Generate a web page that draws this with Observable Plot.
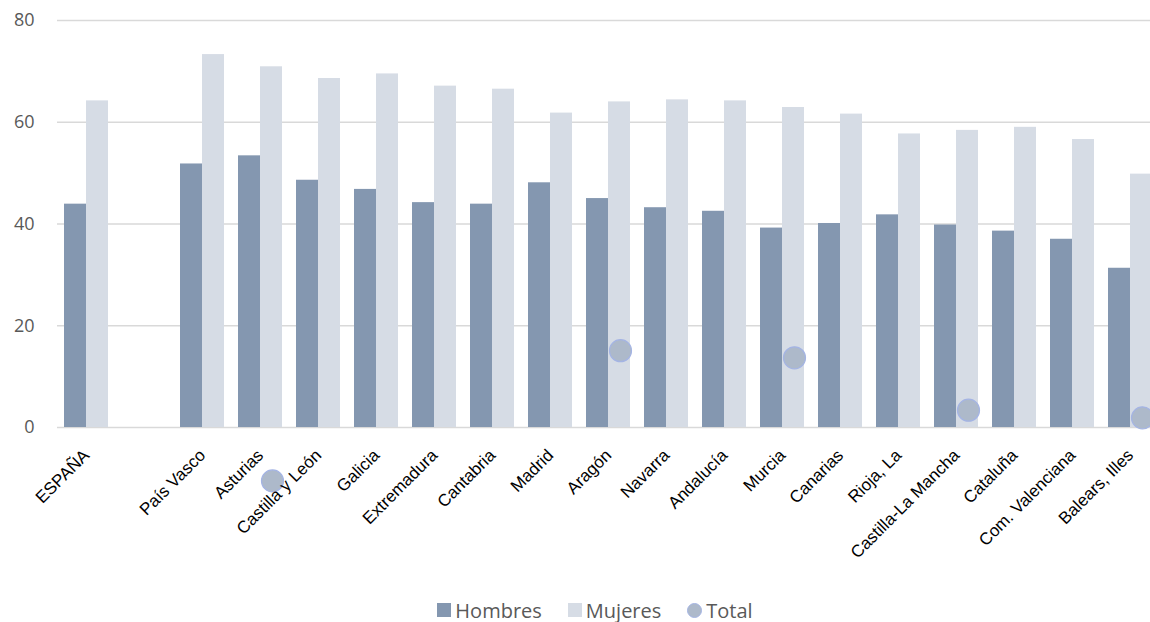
<!DOCTYPE html>
<html>
<head>
<meta charset="utf-8">
<script src="https://cdn.jsdelivr.net/npm/d3@7"></script>
<script src="https://cdn.jsdelivr.net/npm/@observablehq/plot@0.6"></script>
<style>
  html, body { margin: 0; padding: 0; background: #fff; overflow: hidden; }
  #chart svg { display: block; overflow: hidden; }
  .legend { display: flex; justify-content: center; align-items: center; gap: 26px;
    font-family: "Open Sans", sans-serif; font-size: 20px; color: #595959; height: 44px; margin-left: 40px; }
  .legend span.item { display: flex; align-items: center; gap: 4px; }
  .sw { display: inline-block; width: 14px; height: 14px; }
  .circ { display: inline-block; width: 15px; height: 15px; border-radius: 50%; }
</style>
</head>
<body>
<div id="chart"></div>
<div class="legend">
  <span class="item"><span class="sw" style="background:#8497b0"></span>Hombres</span>
  <span class="item"><span class="sw" style="background:#d6dce5"></span>Mujeres</span>
  <span class="item"><span class="circ" style="background:#adb9ca;border:1px solid #a4b4e4;box-sizing:border-box"></span>Total</span>
</div>
<script>
const categories = ["ESPAÑA", "", "País Vasco", "Asturias", "Castilla y León", "Galicia", "Extremadura", "Cantabria", "Madrid", "Aragón", "Navarra", "Andalucía", "Murcia", "Canarias", "Rioja, La", "Castilla-La Mancha", "Cataluña", "Com. Valenciana", "Balears, Illes"];
const hombres = [43.9, null, 51.8, 53.4, 48.6, 46.8, 44.2, 43.9, 48.1, 45.0, 43.2, 42.5, 39.2, 40.1, 41.8, 39.8, 38.6, 37.0, 31.3];
const mujeres = [64.2, null, 73.3, 70.9, 68.6, 69.5, 67.1, 66.5, 61.8, 64.0, 64.4, 64.2, 62.9, 61.6, 57.7, 58.4, 59.0, 56.6, 49.8];
const total = [null, null, null, -10.5, null, null, null, null, null, 15.1, null, null, 13.7, null, null, 3.4, null, null, 1.9];
const yTicks = [0, 20, 40, 60, 80];

const rows = categories.map((c, i) => ({cat: c, h: hombres[i], m: mujeres[i], t: total[i]}));

const chart = Plot.plot({
  width: 1150,
  height: 588,
  marginLeft: 57,
  marginRight: -9,
  marginTop: 20,
  marginBottom: 161,
  style: {background: "#fff", overflow: "hidden"},
  x: {domain: categories, padding: 0, label: null},
  y: {domain: [0, 80], label: null},
  marks: [
    Plot.ruleY(yTicks, {stroke: "#d9d9d9", strokeWidth: 1.3}),
    Plot.barY(rows.filter(d => d.h != null), {x: "cat", y: "h", fill: "#8497b0", insetLeft: 7, insetRight: 29}),
    Plot.barY(rows.filter(d => d.m != null), {x: "cat", y: "m", fill: "#d6dce5", insetLeft: 29, insetRight: 7}),
    Plot.dot(rows.filter(d => d.t != null), {x: "cat", y: "t", r: 11, dx: 12, fill: "#adb9ca", stroke: "#a4b4e4", strokeWidth: 1.2}),
    Plot.axisY({ticks: yTicks, tickSize: 0, tickPadding: 23, fontSize: 18, fontFamily: "Open Sans, sans-serif", fill: "#595959", label: null}),
    Plot.axisX({tickRotate: -45, tickSize: 0, tickPadding: 25, fontSize: 17, fontFamily: "Liberation Sans, Arial, sans-serif", fill: "#000", label: null})
  ]
});
document.getElementById("chart").appendChild(chart);
</script>
</body>
</html>
